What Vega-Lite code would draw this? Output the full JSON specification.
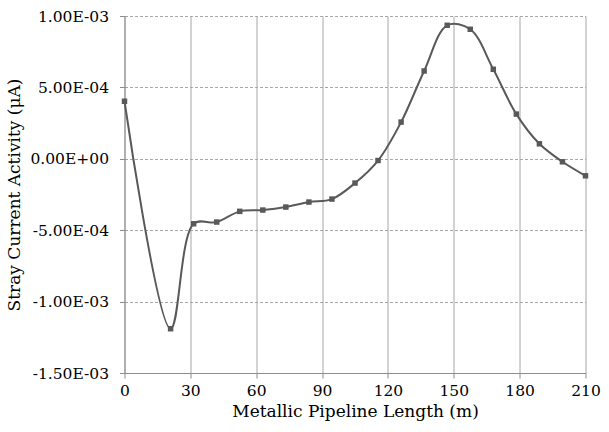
{
  "$schema": "https://vega.github.io/schema/vega-lite/v6.json",
  "width": 461,
  "height": 357,
  "autosize": {"type": "none"},
  "padding": {"left": 124.5, "top": 16, "right": 24, "bottom": 59},
  "background": "white",
  "config": {
    "view": {"stroke": null},
    "font": "DejaVu Serif",
    "axis": {
      "labelFont": "DejaVu Serif",
      "titleFont": "DejaVu Serif",
      "labelColor": "#000000",
      "titleColor": "#000000",
      "titleFontWeight": "normal",
      "labelFontSize": 15.5,
      "titleFontSize": 17
    }
  },
  "data": {
    "values": [
      {"x": 0, "y": 0.000403},
      {"x": 21, "y": -0.00119},
      {"x": 31.5, "y": -0.000455},
      {"x": 42, "y": -0.000443},
      {"x": 52.5, "y": -0.000368},
      {"x": 63, "y": -0.000359},
      {"x": 73.5, "y": -0.000338},
      {"x": 84, "y": -0.000303},
      {"x": 94.5, "y": -0.000282},
      {"x": 105, "y": -0.00017},
      {"x": 115.5, "y": -0.000012},
      {"x": 126, "y": 0.000257},
      {"x": 136.5, "y": 0.000615},
      {"x": 147, "y": 0.000935},
      {"x": 157.5, "y": 0.000907},
      {"x": 168, "y": 0.000627},
      {"x": 178.5, "y": 0.000313},
      {"x": 189, "y": 0.000105},
      {"x": 199.5, "y": -0.000021},
      {"x": 210, "y": -0.000119}
    ]
  },
  "encoding": {
    "x": {
      "field": "x",
      "type": "quantitative",
      "scale": {"domain": [0, 210], "nice": false, "zero": false},
      "axis": {
        "values": [0, 30, 60, 90, 120, 150, 180, 210],
        "title": "Metallic Pipeline Length (m)",
        "labelFlush": false,
        "labelOverlap": false,
        "grid": true,
        "gridColor": "#a6a6a6",
        "gridWidth": 1,
        "domainColor": "#8c8c8c",
        "domainWidth": 1,
        "tickColor": "#8c8c8c",
        "tickSize": 5,
        "labelPadding": 5,
        "titlePadding": 5
      }
    },
    "y": {
      "field": "y",
      "type": "quantitative",
      "scale": {"domain": [-0.0015, 0.001], "nice": false, "zero": false},
      "axis": {
        "values": [-0.0015, -0.001, -0.0005, 0, 0.0005, 0.001],
        "title": "Stray Current Activity (μA)",
        "labelFlush": false,
        "labelOverlap": false,
        "labelExpr": "datum.value == 0 ? '0.00E+00' : (datum.value < 0 ? '-' : '') + format(abs(datum.value) / pow(10, floor(log(abs(datum.value)) / LN10 + 1e-9)), '.2f') + 'E-0' + abs(floor(log(abs(datum.value)) / LN10 + 1e-9))",
        "grid": true,
        "gridColor": "#a6a6a6",
        "gridDash": [3, 2],
        "gridWidth": 1,
        "domainColor": "#8c8c8c",
        "domainWidth": 1,
        "tickColor": "#8c8c8c",
        "tickSize": 5,
        "labelPadding": 11,
        "titlePadding": 6
      }
    }
  },
  "layer": [
    {
      "mark": {"type": "line", "interpolate": "catmull-rom", "color": "#595959", "strokeWidth": 2}
    },
    {
      "mark": {"type": "square", "color": "#595959", "opacity": 1, "filled": true, "size": 30}
    }
  ]
}
